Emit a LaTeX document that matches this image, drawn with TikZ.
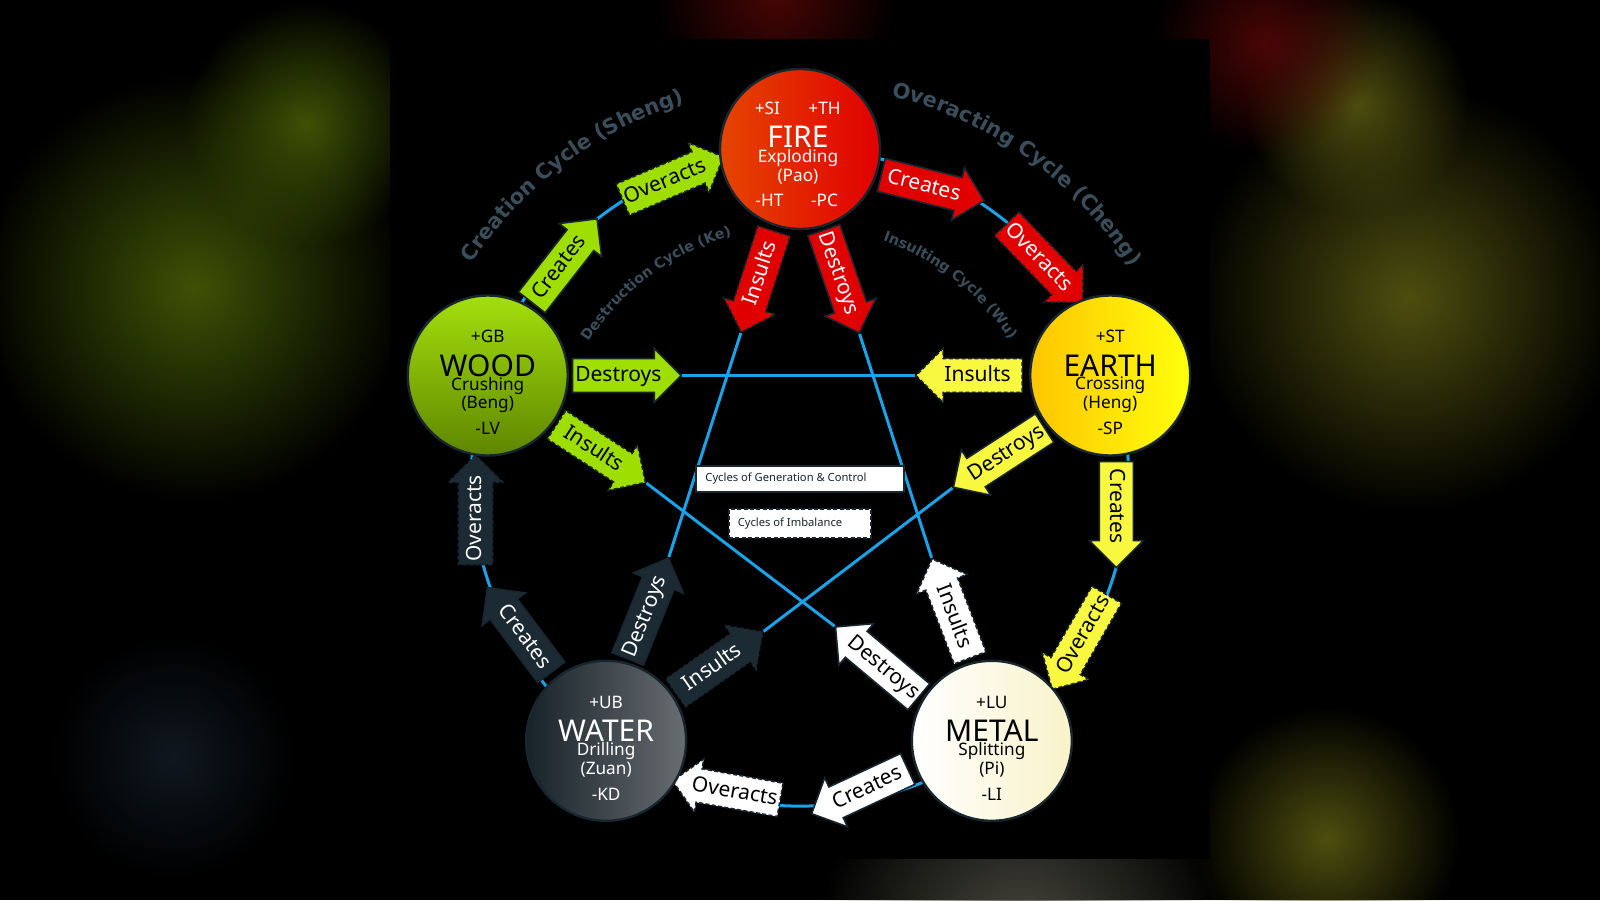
\documentclass[tikz,border=0pt]{standalone}
\usepackage{fontspec}
\setmainfont{Noto Sans}
\newfontfamily\arcfont{DejaVu Sans}
\usetikzlibrary{shapes.arrows,decorations.text,fadings}
\tikzfading[name=blobfade, inner color=transparent!0, outer color=transparent!100]
\definecolor{edge}{HTML}{17262F}
\definecolor{bl}{HTML}{1AA3E8}
\definecolor{gr}{HTML}{9EDE00}
\definecolor{rd}{HTML}{E00000}
\definecolor{ye}{HTML}{F8F840}
\definecolor{dk}{HTML}{1C2A33}
\definecolor{arcgray}{HTML}{3A4D5A}
\definecolor{bgg}{HTML}{3E5206}
\definecolor{bgy}{HTML}{4E4E10}
\definecolor{bgr}{HTML}{4A0606}
\definecolor{bgw}{HTML}{4A4A40}
\definecolor{bgd}{HTML}{101820}
\tikzset{
  arr/.style={single arrow, draw=edge, line width=0.8pt, minimum height=53pt,
    single arrow head extend=5pt, single arrow head indent=0pt, inner xsep=1pt, inner ysep=2.6pt,
    text height=1.6ex, text depth=.45ex, font=\fontsize{10.5}{10.5}\selectfont},
  imb/.style={dash pattern=on 2pt off 1.2pt},
  elem/.style={circle, draw=edge, line width=1.2pt, minimum size=80pt, inner sep=0pt},
  sm/.style={font=\fontsize{8.6}{8.6}\selectfont, inner sep=0pt},
  big/.style={font=\fontsize{15}{15}\selectfont, inner sep=0pt},
  legend/.style={draw=edge, line width=1pt, fill=white, font=\fontsize{5.6}{5.6}\selectfont\bfseries, text=edge, inner sep=0pt}
}
\newcommand\ArcT[5]{% radius, start, end, size, text
  \path[decorate, decoration={text along path, text align=center, text color=arcgray,
    text={|\arcfont\bfseries\fontsize{#4}{#4}\selectfont|#5}}]
    ([shift={(#2:#1)}]784,414) arc[start angle=#2, end angle=#3, radius=#1];}
\begin{document}
\begin{tikzpicture}[x=0.5102pt,y=0.5102pt]
\useasboundingbox (0,0) rectangle (1568,882);
\fill[black] (0,0) rectangle (1568,882);
% blurred background blobs
\foreach \cx/\cy/\r/\c in {190/600/210/bgg,300/760/120/bgg,1380/590/210/bgy,1330/780/110/bgy,760/890/120/bgr,1240/840/110/bgr,1000/-40/200/bgw,1300/60/130/bgy,170/140/120/bgd}{
  \fill[\c, path fading=blobfade] (\cx,\cy) circle (\r);
}
\fill[black] (382,40) rectangle (1186,844);
% outer blue circle
\draw[bl, line width=1.5pt] (784,414) circle (322);
% arrows
\node[arr, fill=gr, rotate=52] (wc) at (548,882-262) {Creates};
\node[arr, imb, fill=gr, rotate=23] (wo) at (652,882-178) {Overacts};
\node[arr, fill=gr] (wd) at (606,882-368) {Destroys};
\node[arr, imb, fill=gr, rotate=-33] (wi) at (582,882-440) {Insults};
\node[arr, fill=rd, text=white, rotate=-14] (fc) at (906,882-182) {Creates};
\node[arr, imb, fill=rd, text=white, rotate=-46] (fo) at (1018,882-252) {Overacts};
\node[arr, imb, fill=rd, text=white, rotate=72, shape border rotate=180] (fi) at (745,882-268) {Insults};
\node[arr, fill=rd, text=white, rotate=-71] (fd) at (822,882-268) {Destroys};
\node[arr, imb, fill=ye, shape border rotate=180] (ei) at (958,882-368) {Insults};
\node[arr, fill=ye, rotate=33, shape border rotate=180] (ed) at (986,882-444) {Destroys};
\node[arr, fill=ye, rotate=-90] (ec) at (1094,882-496) {Creates};
\node[arr, imb, fill=ye, rotate=60, shape border rotate=180] (eo) at (1062,882-622) {Overacts};
\node[arr, fill=white, rotate=25, shape border rotate=180] (mc) at (850,882-772) {Creates};
\node[arr, imb, fill=white, rotate=-10, shape border rotate=180] (mo) at (720,882-776) {Overacts};
\node[arr, fill=white, rotate=-40, shape border rotate=180] (md) at (866,882-654) {Destroys};
\node[arr, imb, fill=white, rotate=-69, shape border rotate=180] (mi) at (935,882-604) {Insults};
\node[arr, fill=dk, text=white, rotate=-53, shape border rotate=180] (ac) at (514,882-624) {Creates};
\node[arr, imb, fill=dk, text=white, rotate=90] (ao) at (466,882-508) {Overacts};
\node[arr, fill=dk, text=white, rotate=68] (ad) at (632,882-604) {Destroys};
\node[arr, imb, fill=dk, text=white, rotate=35] (ai) at (698,882-654) {Insults};
% pentagram
\draw[bl, line width=1.5pt] (wd.tip) -- (ei.tip);
\draw[bl, line width=1.5pt] (fd.tip) -- (mi.tip);
\draw[bl, line width=1.5pt] (fi.tip) -- (ad.tip);
\draw[bl, line width=1.5pt] (ed.tip) -- (ai.tip);
\draw[bl, line width=1.5pt] (wi.tip) -- (md.tip);
% elements
\node[elem, left color=orange!60!red!90!black, right color=rd] (fire) at (784,882-146) {};
\node[elem, top color=gr!95!white, bottom color=gr!60!black] (wood) at (478,882-368) {};
\node[elem, left color=orange!45!yellow, right color=yellow!95!white] (earth) at (1088,882-368) {};
\node[elem, left color=dk!80!black, right color=dk!40!gray!90] (water) at (594,882-726) {};
\node[elem, left color=white, right color=yellow!15!white!90!brown] (metal) at (972,882-726) {};
% fire texts
\begin{scope}[text=white]
\node[sm] (f1) at (752,882-106) {+SI};
\node[sm] (f2) at (808,882-106) {+TH};
\node[big] (f3) at (782,882-134) {FIRE};
\node[sm] (f4) at (782,882-155) {Exploding};
\node[sm] (f5) at (782,882-173) {(Pao)};
\node[sm] (f6) at (754,882-196) {-HT};
\node[sm] (f7) at (808,882-196) {-PC};
\end{scope}
\foreach \n/\x/\y/\c/\a/\b/\cc/\d/\e in {w/478/368/black/+GB/WOOD/Crushing/(Beng)/-LV, e/1088/368/black/+ST/EARTH/Crossing/(Heng)/-SP, a/594/726/white/+UB/WATER/Drilling/(Zuan)/-KD, m/972/726/black/+LU/METAL/Splitting/(Pi)/-LI}{
  \node[sm, text=\c] (\n t1) at (\x,882-\y+38) {\a};
  \node[big, text=\c] (\n t2) at (\x,882-\y+10) {\b};
  \node[sm, text=\c] (\n t3) at (\x,882-\y-10) {\cc};
  \node[sm, text=\c] (\n t4) at (\x,882-\y-28) {\d};
  \node[sm, text=\c] (\n t5) at (\x,882-\y-52) {\e};
}
% arc titles
\ArcT{384}{150}{104}{10.5}{Creation Cycle (Sheng)}
\ArcT{384}{79}{30}{10.5}{Overacting Cycle (Cheng)}
\ArcT{246}{152}{101}{7.2}{Destruction Cycle (Ke)}
\ArcT{246}{76}{28}{7.2}{Insulting Cycle (Wu)}
% legend
\node[legend, minimum width=104pt, minimum height=13pt] (lg1) at (784,882-469) {\hspace*{-14pt}Cycles of Generation \& Control};
\node[legend, imb, minimum width=71pt, minimum height=14.5pt] (lg2) at (784,882-513) {\hspace*{-10pt}Cycles of Imbalance};
\end{tikzpicture}
\end{document}
